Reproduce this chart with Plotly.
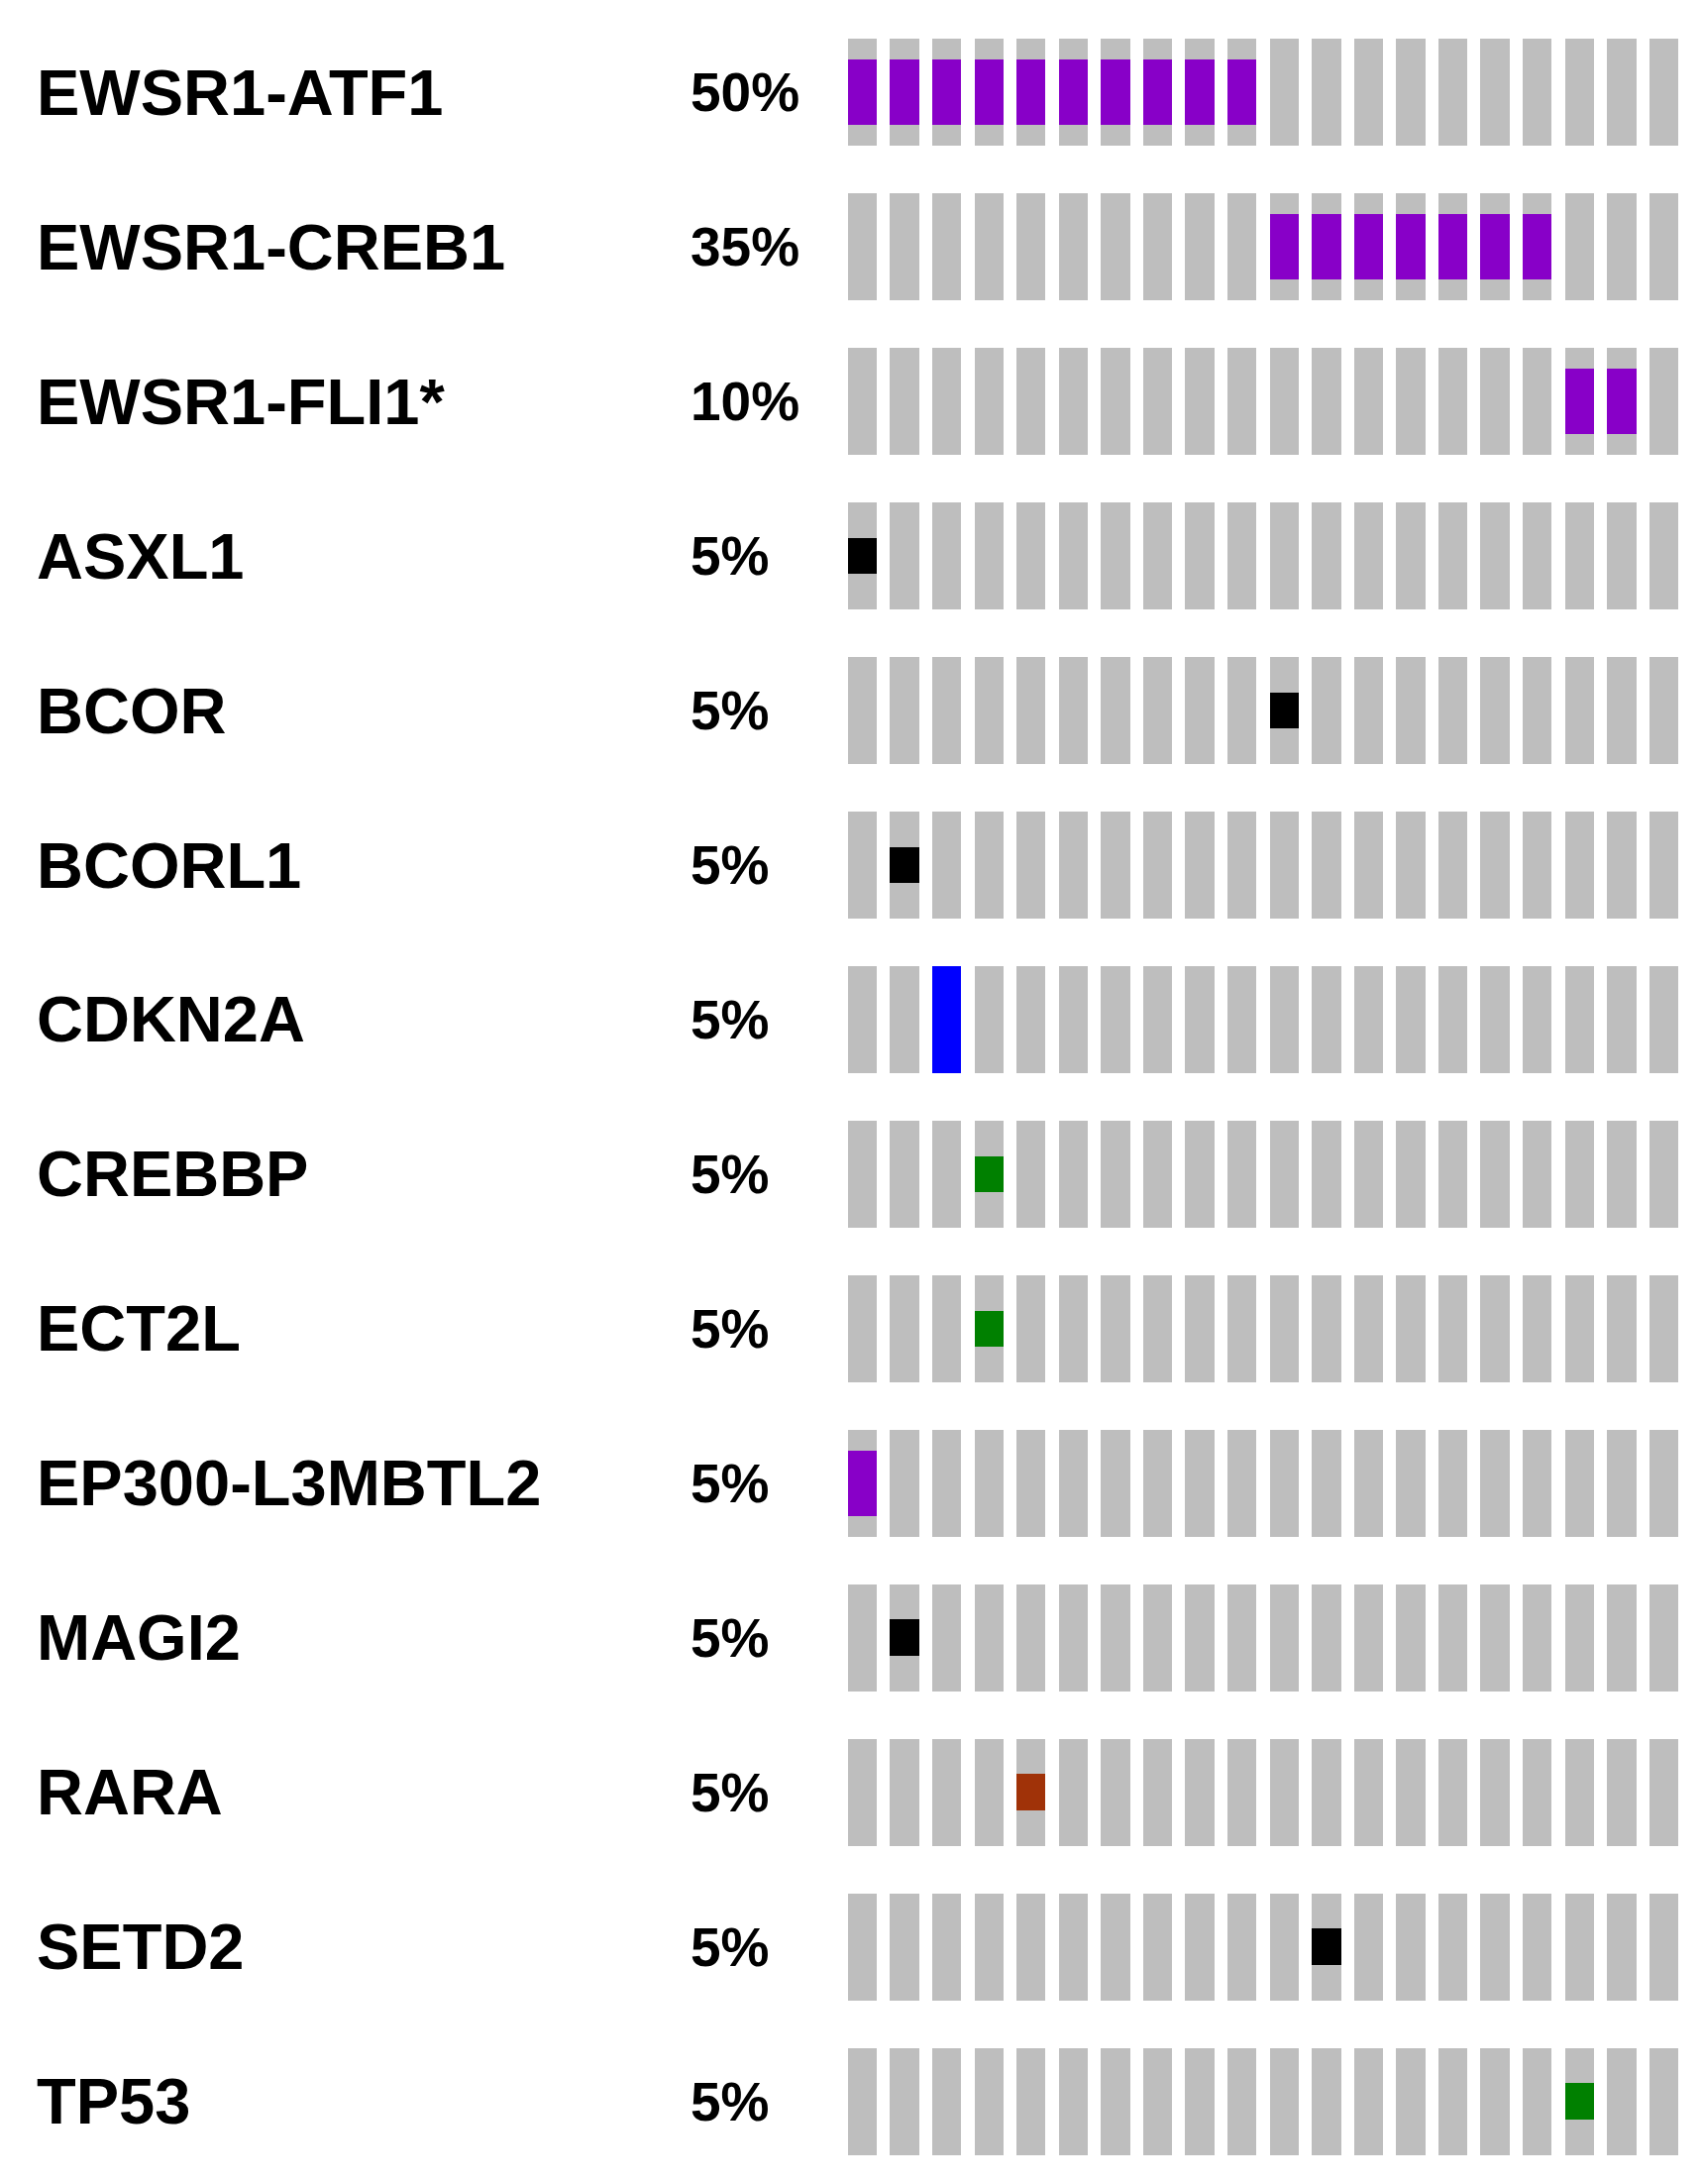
import plotly.graph_objects as go

# ---- data ----
genes = ["EWSR1-ATF1", "EWSR1-CREB1", "EWSR1-FLI1*", "ASXL1", "BCOR", "BCORL1",
         "CDKN2A", "CREBBP", "ECT2L", "EP300-L3MBTL2", "MAGI2", "RARA", "SETD2", "TP53"]
percent_labels = ["50%", "35%", "10%", "5%", "5%", "5%", "5%", "5%", "5%", "5%",
                  "5%", "5%", "5%", "5%"]
n_samples = 20
samples = list(range(n_samples))

# alteration type per gene: list of altered sample columns
fusion_cols = {
    "EWSR1-ATF1": [0, 1, 2, 3, 4, 5, 6, 7, 8, 9],
    "EWSR1-CREB1": [10, 11, 12, 13, 14, 15, 16],
    "EWSR1-FLI1*": [17, 18],
    "EP300-L3MBTL2": [0],
}
truncating_cols = {"ASXL1": [0], "BCOR": [10], "BCORL1": [1], "MAGI2": [1], "SETD2": [11]}
missense_cols = {"CREBBP": [3], "ECT2L": [3], "TP53": [17]}
inframe_cols = {"RARA": [4]}
deletion_cols = {"CDKN2A": [2]}

# ---- style ----
GREY = "#BEBEBE"
PURPLE = "#8800C8"
BLACK = "#000000"
GREEN = "#008000"
BROWN = "#A03208"
BLUE = "#0000FF"
FULL_H = 0.692
FUSION_H = 0.423
SMALL_H = 0.237
BAR_W = 0.69

W, H = 1701, 2188

row_y = {g: -i for i, g in enumerate(genes)}

fig = go.Figure()


def add_layer(col_map, height, color, name):
    xs, ys, bases = [], [], []
    for g, cols in col_map.items():
        for c in cols:
            xs.append(c)
            ys.append(height)
            bases.append(row_y[g] - height / 2)
    fig.add_trace(go.Bar(x=xs, y=ys, base=bases, width=BAR_W, marker=dict(color=color, line=dict(width=0)),
                         name=name, showlegend=False, hoverinfo="skip"))


# grey background cells
bg = {g: samples for g in genes}
add_layer(bg, FULL_H, GREY, "none")
add_layer(deletion_cols, FULL_H, BLUE, "deep deletion")
add_layer(fusion_cols, FUSION_H, PURPLE, "fusion")
add_layer(truncating_cols, SMALL_H, BLACK, "truncating")
add_layer(missense_cols, SMALL_H, GREEN, "missense")
add_layer(inframe_cols, SMALL_H, BROWN, "inframe")

FONT = "Liberation Sans, Arial, Helvetica, sans-serif"
for g, p in zip(genes, percent_labels):
    fig.add_annotation(x=27 / W, xref="paper", y=row_y[g], yref="y", text="<b>" + g + "</b>",
                       showarrow=False, xanchor="left", yanchor="middle",
                       font=dict(family=FONT, size=65, color="black"))
    fig.add_annotation(x=687 / W, xref="paper", y=row_y[g], yref="y", text="<b>" + p + "</b>",
                       showarrow=False, xanchor="left", yanchor="middle",
                       font=dict(family=FONT, size=55, color="black"))

fig.update_layout(
    width=W, height=H,
    margin=dict(l=0, r=0, t=0, b=0),
    paper_bgcolor="white", plot_bgcolor="white",
    barmode="overlay", bargap=0,
    xaxis=dict(range=[-20.256, 19.693], visible=False, fixedrange=True),
    yaxis=dict(range=[-13.481, 0.545], visible=False, fixedrange=True),
)

fig.write_html("out.html")
